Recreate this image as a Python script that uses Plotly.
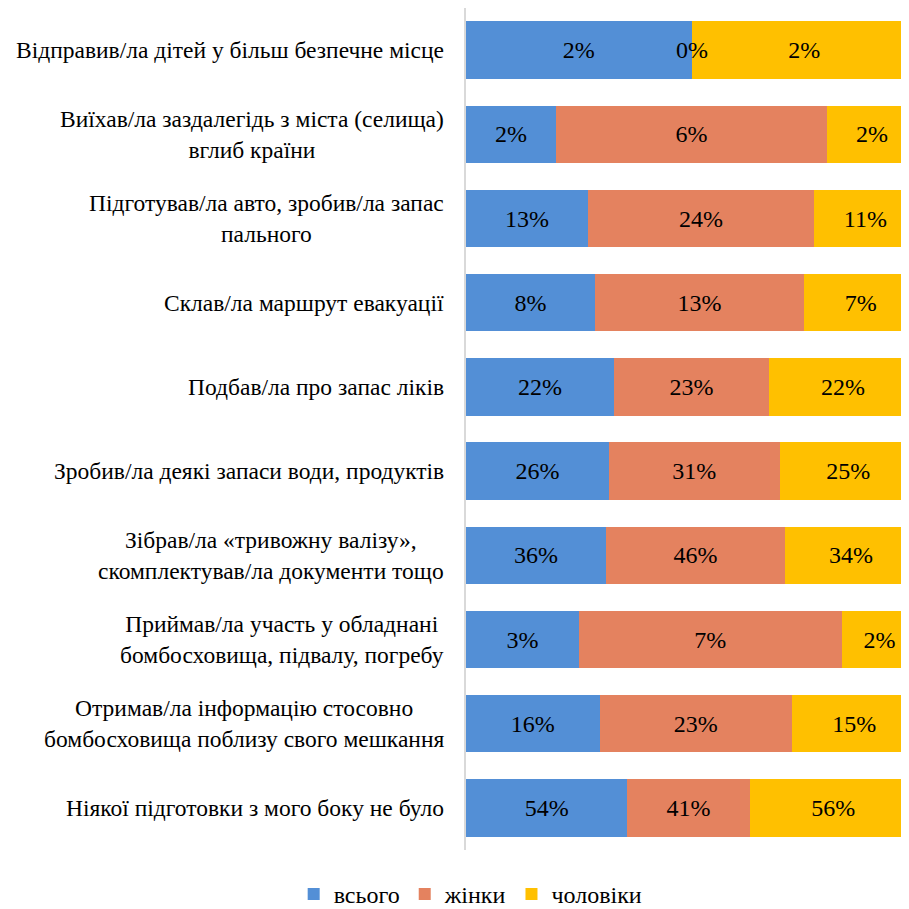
import plotly.graph_objects as go

categories = [
    "Відправив/ла дітей у більш безпечне місце",
    "Виїхав/ла заздалегідь з міста (селища)<br>вглиб країни",
    "Підготував/ла авто, зробив/ла запас<br>пального",
    "Склав/ла маршрут евакуації",
    "Подбав/ла про запас ліків",
    "Зробив/ла деякі запаси води, продуктів",
    "Зібрав/ла «тривожну валізу»,<br>скомплектував/ла документи тощо",
    "Приймав/ла участь у обладнані<br>бомбосховища, підвалу, погребу",
    "Отримав/ла інформацію стосовно<br>бомбосховища поблизу свого мешкання",
    "Ніякої підготовки з мого боку не було",
]
vsogo = [2, 2, 13, 8, 22, 26, 36, 3, 16, 54]
zhinky = [0, 6, 24, 13, 23, 31, 46, 7, 23, 41]
cholovich = [2, 2, 11, 7, 22, 25, 34, 2, 15, 56]

series_names = ["всього", "жінки", "чоловіки"]
colors = ["#538FD6", "#E4825F", "#FFC000"]
FONT = "Liberation Serif, Times New Roman, serif"
FS = 24
FS_CAT = 23.5

fig = go.Figure()
for name, vals, col in zip(series_names, [vsogo, zhinky, cholovich], colors):
    fig.add_trace(go.Bar(
        y=categories, x=vals, name=name, orientation="h",
        marker=dict(color=col, line=dict(width=0)),
        text=[f"{v}%" if v > 0 else "" for v in vals],
        textposition="inside", insidetextanchor="middle",
        textfont=dict(family=FONT, size=FS, color="black"),
        constraintext="none",
    ))

annotations = []
# zero-valued segment labels, placed at the stacked boundary
for i, cat in enumerate(categories):
    tot = vsogo[i] + zhinky[i] + cholovich[i]
    if zhinky[i] == 0:
        annotations.append(dict(
            x=100.0 * vsogo[i] / tot, y=cat, xref="x", yref="y",
            text="0%", showarrow=False, xanchor="center",
            font=dict(family=FONT, size=FS, color="black")))
# category labels, centred lines, right-anchored block
for cat in categories:
    annotations.append(dict(
        x=0, y=cat, xref="paper", yref="y", text=cat, showarrow=False,
        xanchor="right", align="center", xshift=-20,
        font=dict(family=FONT, size=FS_CAT, color="black")))

fig.update_layout(
    width=909, height=909,
    barmode="stack", barnorm="percent", bargap=0.32,
    margin=dict(l=458, r=0, t=0, b=67),
    paper_bgcolor="white", plot_bgcolor="white",
    font=dict(family=FONT, size=FS, color="black"),
    showlegend=True,
    legend=dict(orientation="h", xref="container", x=0.509, xanchor="center",
                yref="container", y=0.025, yanchor="middle",
                font=dict(family=FONT, size=FS, color="black"),
                itemwidth=30, traceorder="normal"),
    annotations=annotations,
)
fig.update_xaxes(range=[0, 100], showticklabels=False, showgrid=False,
                 zeroline=False, showline=False, ticks="")
fig.update_yaxes(autorange="reversed", showticklabels=False, showgrid=False,
                 zeroline=False, showline=True, linecolor="#D9D9D9", linewidth=2,
                 ticks="")

fig.write_html("out.html")
